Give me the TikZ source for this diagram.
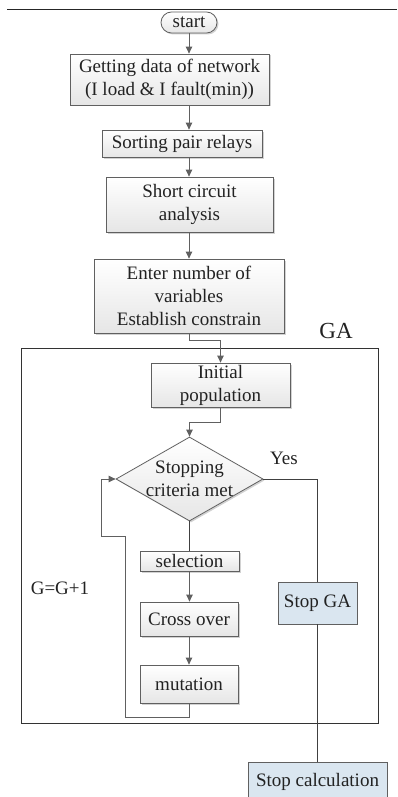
\documentclass[tikz,border=0pt]{standalone}
\usepackage{fontspec}
\setmainfont{Liberation Serif}
\usetikzlibrary{arrows.meta,shapes.geometric,shadows}
\definecolor{linegray}{HTML}{606060}
\definecolor{boxgray}{HTML}{E6E6E6}
\definecolor{boxblue}{HTML}{DAE6F0}
\definecolor{txt}{HTML}{222222}
\begin{document}
\begin{tikzpicture}[x=1pt,y=-1pt,
  every node/.style={text=txt},
  body/.style={font=\fontsize{19}{23}\selectfont},
  box/.style={body, draw=linegray, line width=0.8pt, top color=white, bottom color=boxgray,
    drop shadow={shadow xshift=1.5pt, shadow yshift=-1.5pt, opacity=0.35, fill=gray},
    align=center, inner sep=0pt},
  bluebox/.style={body, draw=linegray, line width=0.8pt, fill=boxblue, align=center, inner sep=0pt},
  arr/.style={draw=linegray, line width=0.9pt, -{Triangle[length=7pt,width=6.5pt]}},
  plain/.style={draw=black!75, line width=0.8pt},
  lbl/.style={body, inner sep=0pt}
]
\useasboundingbox (0,0) rectangle (397,797);
\fill[white] (0,0) rectangle (397,797);
\draw[black!85, line width=0.8pt] (7,9) -- (397,9);

\coordinate (axis) at (189,0);

\node[draw=black!80, line width=0.8pt, minimum width=357pt, minimum height=375pt, inner sep=0pt] (ga) at (199.5,535.5) {};
\node[font=\fontsize{23}{27}\selectfont, inner sep=0pt] (galbl) at (336,331) {GA};

\node[box, rounded corners=10.5pt, minimum width=56pt, minimum height=21pt] (start) at (189,22.5) {start};
\node[box, minimum width=199pt, minimum height=51pt] (get) at (169.5,79.5) {Getting data of network\\(I load \& I fault(min))};
\node[box, minimum width=160pt, minimum height=27pt] (sort) at (182,143.5) {Sorting pair relays};
\node[box, minimum width=167pt, minimum height=55pt] (short) at (189.5,204.5) {Short circuit\\analysis};
\node[box, minimum width=190pt, minimum height=74pt] (enter) at (189,296) {Enter number of\\variables\\Establish constrain};
\node[box, minimum width=139pt, minimum height=44pt] (init) at (220.5,385) {Initial\\population};
\node[shape=diamond, draw=linegray, line width=0.8pt, top color=white, bottom color=boxgray,
  drop shadow={shadow xshift=1.5pt, shadow yshift=-1.5pt, opacity=0.35, fill=gray},
  minimum width=147pt, minimum height=84pt, inner sep=0pt] (crit) at (189.5,479) {};
\node[lbl, align=center] (crittext) at (crit.center) {Stopping\\criteria met};
\node[box, minimum width=99pt, minimum height=20pt] (sel) at (189.5,561) {selection};
\node[box, minimum width=98pt, minimum height=34pt] (cross) at (189,619) {Cross over};
\node[box, minimum width=98pt, minimum height=38pt] (mut) at (189,684) {mutation};
\node[bluebox, minimum width=79pt, minimum height=42pt] (stopga) at (317.5,603) {Stop GA};
\node[bluebox, minimum width=139pt, minimum height=40pt] (stopcalc) at (317.5,782) {Stop calculation};

\node[lbl] (yes) at (284,458) {Yes};
\node[lbl] (gg) at (60,588) {G=G+1};

\draw[arr] (start.south) -- (start.south |- get.north);
\draw[arr] (axis |- get.south) -- (axis |- sort.north);
\draw[arr] (axis |- sort.south) -- (axis |- short.north);
\draw[arr] (axis |- short.south) -- (axis |- enter.north);
\draw[arr] (enter.south) -- ++(0,7) -| (init.north);
\draw[arr] (init.south) -- ++(0,15) -| (crit.north);
\draw[plain] (crit.south) -- (crit.south |- sel.north);
\draw[arr] (crit.south |- sel.south) -- (crit.south |- cross.north);
\draw[arr] (cross.south) -- (mut.north);
\draw[arr] (mut.south) |- (125,717) -- (125,536) -- (101,536) |- (crit.west);
\draw[plain] (crit.east) -| (stopga.north);
\draw[plain] (stopga.south) -- (stopcalc.north);
\end{tikzpicture}
\end{document}
